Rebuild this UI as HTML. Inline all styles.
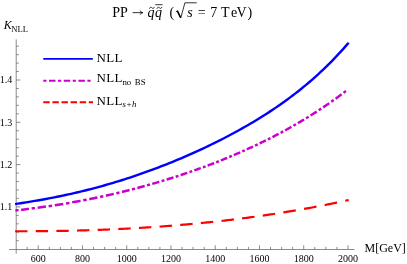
<!DOCTYPE html>
<html><head><meta charset="utf-8"><style>
html,body{margin:0;padding:0;background:#fff;}
svg{display:block;font-family:"Liberation Serif",serif;}
</style></head><body>
<svg width="407" height="264" viewBox="0 0 407 264">
<rect width="407" height="264" fill="#fff"/>
<g stroke="#666" stroke-width="0.75" fill="none">
<line x1="9" y1="249.5" x2="354.5" y2="249.5"/>
<line x1="16.2" y1="39.4" x2="16.2" y2="253.7"/>
<line x1="27.16" y1="249.5" x2="27.16" y2="246.90"/>
<line x1="38.23" y1="249.5" x2="38.23" y2="245.30"/>
<line x1="49.29" y1="249.5" x2="49.29" y2="246.90"/>
<line x1="60.35" y1="249.5" x2="60.35" y2="246.90"/>
<line x1="71.41" y1="249.5" x2="71.41" y2="246.90"/>
<line x1="82.47" y1="249.5" x2="82.47" y2="245.30"/>
<line x1="93.54" y1="249.5" x2="93.54" y2="246.90"/>
<line x1="104.60" y1="249.5" x2="104.60" y2="246.90"/>
<line x1="115.66" y1="249.5" x2="115.66" y2="246.90"/>
<line x1="126.72" y1="249.5" x2="126.72" y2="245.30"/>
<line x1="137.79" y1="249.5" x2="137.79" y2="246.90"/>
<line x1="148.85" y1="249.5" x2="148.85" y2="246.90"/>
<line x1="159.91" y1="249.5" x2="159.91" y2="246.90"/>
<line x1="170.97" y1="249.5" x2="170.97" y2="245.30"/>
<line x1="182.04" y1="249.5" x2="182.04" y2="246.90"/>
<line x1="193.10" y1="249.5" x2="193.10" y2="246.90"/>
<line x1="204.16" y1="249.5" x2="204.16" y2="246.90"/>
<line x1="215.22" y1="249.5" x2="215.22" y2="245.30"/>
<line x1="226.29" y1="249.5" x2="226.29" y2="246.90"/>
<line x1="237.35" y1="249.5" x2="237.35" y2="246.90"/>
<line x1="248.41" y1="249.5" x2="248.41" y2="246.90"/>
<line x1="259.48" y1="249.5" x2="259.48" y2="245.30"/>
<line x1="270.54" y1="249.5" x2="270.54" y2="246.90"/>
<line x1="281.60" y1="249.5" x2="281.60" y2="246.90"/>
<line x1="292.66" y1="249.5" x2="292.66" y2="246.90"/>
<line x1="303.73" y1="249.5" x2="303.73" y2="245.30"/>
<line x1="314.79" y1="249.5" x2="314.79" y2="246.90"/>
<line x1="325.85" y1="249.5" x2="325.85" y2="246.90"/>
<line x1="336.91" y1="249.5" x2="336.91" y2="246.90"/>
<line x1="347.98" y1="249.5" x2="347.98" y2="245.30"/>
<line x1="16.2" y1="240.74" x2="18.80" y2="240.74"/>
<line x1="16.2" y1="232.28" x2="18.80" y2="232.28"/>
<line x1="16.2" y1="223.82" x2="18.80" y2="223.82"/>
<line x1="16.2" y1="215.36" x2="18.80" y2="215.36"/>
<line x1="16.2" y1="206.90" x2="20.40" y2="206.90"/>
<line x1="16.2" y1="198.44" x2="18.80" y2="198.44"/>
<line x1="16.2" y1="189.98" x2="18.80" y2="189.98"/>
<line x1="16.2" y1="181.52" x2="18.80" y2="181.52"/>
<line x1="16.2" y1="173.06" x2="18.80" y2="173.06"/>
<line x1="16.2" y1="164.60" x2="20.40" y2="164.60"/>
<line x1="16.2" y1="156.14" x2="18.80" y2="156.14"/>
<line x1="16.2" y1="147.68" x2="18.80" y2="147.68"/>
<line x1="16.2" y1="139.22" x2="18.80" y2="139.22"/>
<line x1="16.2" y1="130.76" x2="18.80" y2="130.76"/>
<line x1="16.2" y1="122.30" x2="20.40" y2="122.30"/>
<line x1="16.2" y1="113.84" x2="18.80" y2="113.84"/>
<line x1="16.2" y1="105.38" x2="18.80" y2="105.38"/>
<line x1="16.2" y1="96.92" x2="18.80" y2="96.92"/>
<line x1="16.2" y1="88.46" x2="18.80" y2="88.46"/>
<line x1="16.2" y1="80.00" x2="20.40" y2="80.00"/>
<line x1="16.2" y1="71.54" x2="18.80" y2="71.54"/>
<line x1="16.2" y1="63.08" x2="18.80" y2="63.08"/>
<line x1="16.2" y1="54.62" x2="18.80" y2="54.62"/>
<line x1="16.2" y1="46.16" x2="18.80" y2="46.16"/>
</g>
<g font-size="10" fill="#000" style="filter:grayscale(1)">
<text x="38.23" y="261.6" text-anchor="middle">600</text>
<text x="82.47" y="261.6" text-anchor="middle">800</text>
<text x="126.72" y="261.6" text-anchor="middle">1000</text>
<text x="170.97" y="261.6" text-anchor="middle">1200</text>
<text x="215.22" y="261.6" text-anchor="middle">1400</text>
<text x="259.48" y="261.6" text-anchor="middle">1600</text>
<text x="303.73" y="261.6" text-anchor="middle">1800</text>
<text x="347.98" y="261.6" text-anchor="middle">2000</text>
<text x="12.3" y="210.35" text-anchor="end">1.1</text>
<text x="12.3" y="168.05" text-anchor="end">1.2</text>
<text x="12.3" y="125.75" text-anchor="end">1.3</text>
<text x="12.3" y="83.45" text-anchor="end">1.4</text>
</g>
<g fill="none" stroke-linecap="butt">
<path d="M15.10,231.24 L16.65,231.24 L18.20,231.25 L19.74,231.25 L21.29,231.25 L22.84,231.25 L24.39,231.25 L25.94,231.25 L27.48,231.24 M35.74,231.21 L37.29,231.20 L38.84,231.19 L40.38,231.18 L41.93,231.16 L43.48,231.15 L45.03,231.13 L46.58,231.12 L48.12,231.10 M56.38,230.98 L57.93,230.96 L59.48,230.93 L61.02,230.91 L62.57,230.88 L64.12,230.85 L65.67,230.82 L67.22,230.79 L68.76,230.75 M77.02,230.56 L78.57,230.52 L80.12,230.47 L81.66,230.43 L83.21,230.39 L84.76,230.34 L86.31,230.30 L87.86,230.25 L89.40,230.20 M97.66,229.92 L99.21,229.86 L100.76,229.80 L102.30,229.74 L103.85,229.68 L105.40,229.62 L106.95,229.55 L108.50,229.49 L110.04,229.42 M118.30,229.05 L119.85,228.97 L121.40,228.90 L122.94,228.82 L124.49,228.74 L126.04,228.66 L127.59,228.58 L129.14,228.50 L130.68,228.42 M138.94,227.94 L140.49,227.85 L142.04,227.76 L143.58,227.66 L145.13,227.57 L146.68,227.47 L148.23,227.37 L149.78,227.27 L151.32,227.16 M159.58,226.59 L161.13,226.48 L162.68,226.37 L164.22,226.25 L165.77,226.13 L167.32,226.02 L168.87,225.90 L170.42,225.78 L171.96,225.65 M180.22,224.97 L181.77,224.84 L183.32,224.71 L184.86,224.57 L186.41,224.44 L187.96,224.30 L189.51,224.16 L191.06,224.02 L192.60,223.87 M200.86,223.08 L202.41,222.93 L203.96,222.77 L205.50,222.62 L207.05,222.46 L208.60,222.30 L210.15,222.14 L211.70,221.97 L213.24,221.81 M221.50,220.90 L223.05,220.72 L224.60,220.54 L226.14,220.37 L227.69,220.18 L229.24,220.00 L230.79,219.82 L232.34,219.63 L233.88,219.44 M242.14,218.41 L243.69,218.21 L245.24,218.01 L246.78,217.80 L248.33,217.60 L249.88,217.39 L251.43,217.18 L252.98,216.97 L254.52,216.76 M262.78,215.60 L264.33,215.37 L265.88,215.15 L267.42,214.92 L268.97,214.69 L270.52,214.46 L272.07,214.22 L273.62,213.99 L275.16,213.75 M283.42,212.44 L284.97,212.19 L286.52,211.94 L288.06,211.69 L289.61,211.43 L291.16,211.17 L292.71,210.91 L294.26,210.65 L295.80,210.38 M304.06,208.94 L305.61,208.66 L307.16,208.38 L308.70,208.10 L310.25,207.81 L311.80,207.52 L313.35,207.24 L314.90,206.95 L316.44,206.65 M324.70,205.05 L326.25,204.75 L327.80,204.44 L329.34,204.12 L330.89,203.81 L332.44,203.49 L333.99,203.18 L335.54,202.86 L337.08,202.53 M345.34,200.77 L347.02,200.41 L348.70,200.04" stroke="#ff0000" stroke-width="2.2"/>
<path d="M15.43,210.49 L17.01,210.31 L18.59,210.13 M21.08,209.84 L22.67,209.66 L24.26,209.47 L25.84,209.28 L27.43,209.08 L29.02,208.88 M31.63,208.55 L33.31,208.34 L34.98,208.12 M37.62,207.77 L39.28,207.54 L40.95,207.31 L42.61,207.08 L44.28,206.84 L45.94,206.60 M48.65,206.21 L50.38,205.95 L52.11,205.69 M54.81,205.27 L56.51,205.01 L58.20,204.74 L59.89,204.47 L61.58,204.20 L63.28,203.92 M66.00,203.46 L67.74,203.16 L69.47,202.86 M72.17,202.39 L73.85,202.09 L75.53,201.79 L77.21,201.48 L78.88,201.17 L80.56,200.86 M83.24,200.35 L84.95,200.02 L86.65,199.69 M89.29,199.17 L90.92,198.84 L92.56,198.51 L94.19,198.18 L95.82,197.84 L97.46,197.49 M100.06,196.94 L101.71,196.59 L103.36,196.23 M105.91,195.67 L107.49,195.31 L109.07,194.96 L110.64,194.60 L112.22,194.24 L113.80,193.87 M116.31,193.28 L117.89,192.91 L119.48,192.53 M121.94,191.93 L123.46,191.56 L124.98,191.18 L126.49,190.80 L128.01,190.42 L129.53,190.04 M131.94,189.42 L133.47,189.02 L135.00,188.62 M137.37,187.99 L139.20,187.51 L141.02,187.01 L142.85,186.51 L144.68,186.01 M147.01,185.36 L149.96,184.53 M152.24,183.88 L154.01,183.37 L155.78,182.85 L157.54,182.33 L159.31,181.81 M161.56,181.13 L164.42,180.26 M166.64,179.58 L168.35,179.05 L170.06,178.51 L171.78,177.97 L173.49,177.42 M175.68,176.72 L178.46,175.82 M180.62,175.10 L182.29,174.55 L183.96,173.99 L185.63,173.42 L187.31,172.86 M189.45,172.12 L192.16,171.18 M194.27,170.43 L195.91,169.85 L197.55,169.27 L199.18,168.68 L200.82,168.09 M202.92,167.32 L205.59,166.33 M207.66,165.56 L209.27,164.95 L210.88,164.33 L212.49,163.72 L214.10,163.10 M216.17,162.29 L218.80,161.26 M220.84,160.44 L222.43,159.80 L224.02,159.16 L225.62,158.51 L227.21,157.86 M229.25,157.02 L231.85,155.93 M233.87,155.07 L235.45,154.40 L237.03,153.72 L238.60,153.04 L240.18,152.35 M242.21,151.46 L244.79,150.31 M246.80,149.41 L248.36,148.70 L249.93,147.98 L251.49,147.26 L253.06,146.54 M255.08,145.59 L257.64,144.38 M259.64,143.42 L261.20,142.67 L262.76,141.91 L264.32,141.15 L265.88,140.38 M267.89,139.38 L270.45,138.09 M272.44,137.07 L273.99,136.28 L275.55,135.47 L277.10,134.66 L278.66,133.84 M280.66,132.78 L283.21,131.41 M285.20,130.33 L286.75,129.48 L288.30,128.62 L289.85,127.76 L291.40,126.88 M293.40,125.75 L295.94,124.29 M297.92,123.14 L299.47,122.24 L301.01,121.33 L302.56,120.40 L304.10,119.48 M306.09,118.27 L308.62,116.72 M310.59,115.49 L312.13,114.53 L313.66,113.56 L315.20,112.58 L316.73,111.59 M318.71,110.30 L321.22,108.65 M323.18,107.35 L324.70,106.32 L326.22,105.29 L327.74,104.25 L329.26,103.20 M331.21,101.84 L333.70,100.08 M335.63,98.70 L337.63,97.25 L339.62,95.79 L341.62,94.31 M343.54,92.87 L345.98,91.01" stroke="#cc00cc" stroke-width="2.5"/>
<path d="M15.10,204.09 L17.90,203.66 L20.71,203.23 L23.51,202.78 L26.31,202.33 L29.12,201.88 L31.92,201.41 L34.72,200.94 L37.53,200.46 L40.33,199.96 L43.13,199.46 L45.94,198.95 L48.74,198.42 L51.54,197.89 L54.35,197.34 L57.15,196.78 L59.95,196.21 L62.76,195.63 L65.56,195.03 L68.36,194.42 L71.17,193.80 L73.97,193.17 L76.77,192.52 L79.58,191.85 L82.38,191.18 L85.18,190.49 L87.99,189.78 L90.79,189.07 L93.59,188.33 L96.40,187.59 L99.20,186.83 L102.00,186.05 L104.81,185.26 L107.61,184.46 L110.41,183.64 L113.22,182.81 L116.02,181.96 L118.82,181.10 L121.63,180.23 L124.43,179.34 L127.23,178.43 L130.04,177.52 L132.84,176.58 L135.64,175.64 L138.45,174.67 L141.25,173.70 L144.05,172.71 L146.86,171.70 L149.66,170.68 L152.46,169.65 L155.27,168.60 L158.07,167.54 L160.87,166.47 L163.68,165.38 L166.48,164.27 L169.28,163.15 L172.09,162.02 L174.89,160.87 L177.69,159.70 L180.50,158.53 L183.30,157.33 L186.11,156.12 L188.91,154.90 L191.71,153.66 L194.52,152.41 L197.32,151.13 L200.12,149.85 L202.93,148.55 L205.73,147.23 L208.53,145.89 L211.34,144.54 L214.14,143.17 L216.94,141.78 L219.75,140.37 L222.55,138.95 L225.35,137.50 L228.16,136.04 L230.96,134.56 L233.76,133.05 L236.57,131.53 L239.37,129.98 L242.17,128.42 L244.98,126.83 L247.78,125.21 L250.58,123.57 L253.39,121.91 L256.19,120.22 L258.99,118.51 L261.80,116.77 L264.60,115.00 L267.40,113.20 L270.21,111.37 L273.01,109.51 L275.81,107.62 L278.62,105.69 L281.42,103.73 L284.22,101.74 L287.03,99.71 L289.83,97.64 L292.63,95.53 L295.44,93.38 L298.24,91.19 L301.04,88.95 L303.85,86.68 L306.65,84.35 L309.45,81.98 L312.26,79.55 L315.06,77.08 L317.86,74.55 L320.67,71.96 L323.47,69.32 L326.27,66.62 L329.08,63.86 L331.88,61.04 L334.68,58.15 L337.49,55.20 L340.29,52.17 L343.09,49.08 L345.90,45.91 L348.70,42.66" stroke="#0000ff" stroke-width="2.4"/>
<line x1="43.3" y1="58.9" x2="92.8" y2="58.9" stroke="#0000ff" stroke-width="1.9"/>
<line x1="43.3" y1="80.8" x2="92.8" y2="80.8" stroke="#cc00cc" stroke-width="1.9" stroke-dasharray="3.2 2.5 6.5 2.5"/>
<line x1="43.3" y1="102.3" x2="93" y2="102.3" stroke="#ff0000" stroke-width="1.9" stroke-dasharray="6.4 2.7"/>
</g>
<g fill="#000" style="filter:grayscale(1)">
<text x="96.6" y="61.5" font-size="13" letter-spacing="0.3">NLL</text>
<text x="96.6" y="82.3" font-size="13" letter-spacing="0.3">NLL</text>
<text x="122.4" y="84.5" font-size="8.8">no</text>
<text x="134.8" y="84.5" font-size="8.8">BS</text>
<text x="96.6" y="104.5" font-size="13" letter-spacing="0.3">NLL</text>
<text x="122.6" y="106.8" font-size="8.8" font-style="italic">s+h</text>
<text x="3.8" y="28.8" font-size="12" font-style="italic">K</text>
<text x="11.2" y="31.6" font-size="8.6">NLL</text>
<text x="364.5" y="251.6" font-size="12">M[GeV]</text>
<g font-size="14" style="font-kerning:none">
<text x="112.3" y="16.7">PP</text>
<path d="M132.6,12.65 L142.6,12.65 M139.9,10.7 Q141,12.2 142.9,12.65 Q141,13.1 139.9,14.6" fill="none" stroke="#000" stroke-width="0.8"/>
<text x="147.5" y="16.7" font-style="italic">q</text>
<path d="M149.4,8.7 C149.9,6.9 151.1,7 151.9,7.8 S153.7,8.9 154.3,7.1" fill="none" stroke="#000" stroke-width="0.8"/>
<text x="155.0" y="16.7" font-style="italic">q</text>
<path d="M157.0,8.7 C157.5,6.9 158.7,7 159.5,7.8 S161.3,8.9 161.9,7.1" fill="none" stroke="#000" stroke-width="0.8"/>
<line x1="155.3" y1="4.7" x2="162.5" y2="4.7" stroke="#000" stroke-width="0.8"/>
<text x="169.6" y="16.7">(</text>
<path d="M175.8,11.9 L177.4,10.7 L180.8,17.9 L184.9,2.8 L196.7,2.8" fill="none" stroke="#000" stroke-width="0.8"/>
<path d="M177.3,10.8 L180.6,17.6" fill="none" stroke="#000" stroke-width="1.5"/>
<text x="187.2" y="16.7" font-style="italic">s</text>
<text x="197.8" y="16.7">=</text>
<text x="210.3" y="16.7">7</text>
<text x="221.0" y="16.7">T</text>
<text x="231.0" y="16.7">e</text>
<text x="236.5" y="16.7">V</text>
<text x="247.6" y="16.7">)</text>
</g>
</g>
</svg>
</body></html>
